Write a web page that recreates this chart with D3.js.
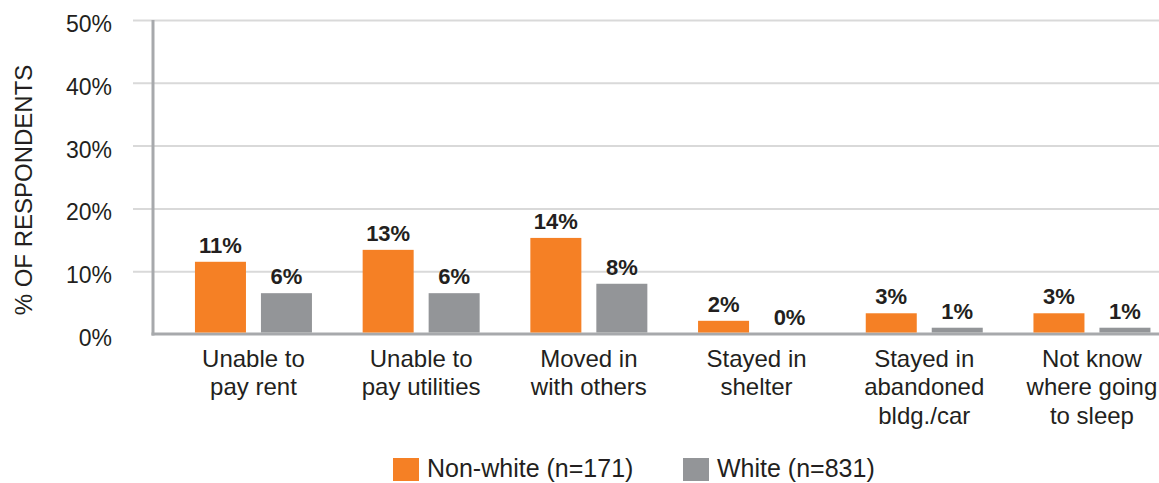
<!DOCTYPE html>
<html>
<head>
<meta charset="utf-8">
<script src="https://cdn.jsdelivr.net/npm/d3@7"></script>
<style>
	html,body{margin:0;padding:0;background:#fff;}
	svg{display:block;font-family:"Liberation Sans",Arial,sans-serif;}
	.tick text{fill:#231f20;}
</style>
</head>
<body>
<div id="chart"></div>
<script>
//Data
const categories = [
	'Unable to\npay rent',
	'Unable to\npay utilities',
	'Moved in\nwith others',
	'Stayed in\nshelter',
	'Stayed in\nabandoned\nbldg./car',
	'Not know\nwhere going\nto sleep'
];
const seriesNames = ['Non-white (n=171)','White (n=831)'];
const nonWhite = [11.5, 13.4, 15.3, 2.1, 3.3, 3.3];
const white = [6.5, 6.5, 8.0, 0, 1.0, 1.0];
const nonWhiteLabels = ['11%','13%','14%','2%','3%','3%'];
const whiteLabels = ['6%','6%','8%','0%','1%','1%'];
const yTicks = [0,10,20,30,40,50];

const colors = ['#f58025','#939598'];

const width = 1159;
const height = 483;

const svg = d3.select('#chart').append('svg')
	.attr('width',width)
	.attr('height',height);

//Scales
const scaleY = d3.scaleLinear().domain([0,50]).range([334,20]);
const scaleX = d3.scaleBand().domain(categories).range([169.6,1175.8]);
const scaleSeries = d3.scaleBand()
	.domain(seriesNames)
	.range([25.35, 142.35])
	.paddingInner(0.227);

//Gridlines + tick labels
const axisY = d3.axisLeft(scaleY)
	.tickValues(yTicks)
	.tickFormat(d => d + '%')
	.tickSize(0)
	.tickPadding(21);

const axisYNode = svg.append('g')
	.attr('class','axis axis-y')
	.attr('transform','translate(133,0)')
	.call(axisY);
axisYNode.select('.domain').remove();
axisYNode.selectAll('.tick text')
	.style('font-size','23px')
	.attr('dy','0.5em');
axisYNode.selectAll('.tick')
	.filter(d => d !== 0)
	.append('line')
	.attr('x1',0)
	.attr('x2',width - 133)
	.attr('stroke','#d9d9d9')
	.attr('stroke-width',2);

//Axis lines
svg.append('line')
	.attr('x1',153).attr('x2',153)
	.attr('y1',scaleY(50)).attr('y2',scaleY(0) + 1.5)
	.attr('stroke','#a7a9ac')
	.attr('stroke-width',3);
svg.append('line')
	.attr('x1',151.5).attr('x2',width)
	.attr('y1',scaleY(0)).attr('y2',scaleY(0))
	.attr('stroke','#a7a9ac')
	.attr('stroke-width',3);

//Bars
const rows = categories.map((c,i) => ({
	category:c,
	values:[
		{series:seriesNames[0], value:nonWhite[i], label:nonWhiteLabels[i]},
		{series:seriesNames[1], value:white[i], label:whiteLabels[i]}
	]
}));

const groups = svg.selectAll('.group')
	.data(rows)
	.enter()
	.append('g')
	.attr('class','group')
	.attr('transform', d => `translate(${scaleX(d.category)},0)`);

groups.selectAll('.bar')
	.data(d => d.values)
	.enter()
	.append('rect')
	.attr('class','bar')
	.attr('x', d => scaleSeries(d.series))
	.attr('width', scaleSeries.bandwidth())
	.attr('y', d => scaleY(d.value))
	.attr('height', d => Math.max(0, scaleY(0) - 1.5 - scaleY(d.value)))
	.style('fill', (d,i) => colors[i]);

groups.selectAll('.value')
	.data(d => d.values)
	.enter()
	.append('text')
	.attr('class','value')
	.attr('x', d => scaleSeries(d.series) + scaleSeries.bandwidth()/2)
	.attr('y', d => scaleY(d.value) - 9)
	.attr('text-anchor','middle')
	.style('font-size','22px')
	.style('font-weight','bold')
	.style('fill','#231f20')
	.text(d => d.label);

//Category labels
groups.append('text')
	.attr('class','category')
	.attr('text-anchor','middle')
	.style('font-size','24px')
	.style('fill','#231f20')
	.selectAll('tspan')
	.data(d => d.category.split('\n'))
	.enter()
	.append('tspan')
	.attr('x', scaleX.bandwidth()/2)
	.attr('y', (d,i) => 366.5 + i*28.5)
	.text(d => d);

//Y title
svg.append('text')
	.attr('transform','translate(32,190) rotate(-90)')
	.attr('text-anchor','middle')
	.style('font-size','24px')
	.style('fill','#231f20')
	.text('% OF RESPONDENTS');

//Legend
const legendX = [393, 683];
const legend = svg.selectAll('.legend')
	.data(seriesNames)
	.enter()
	.append('g')
	.attr('class','legend')
	.attr('transform', (d,i) => `translate(${legendX[i]},458)`);
legend.append('rect')
	.attr('width',26)
	.attr('height',23)
	.style('fill', (d,i) => colors[i]);
legend.append('text')
	.attr('x',34)
	.attr('y',19)
	.style('font-size','25px')
	.style('fill','#231f20')
	.text(d => d);
</script>
</body>
</html>
